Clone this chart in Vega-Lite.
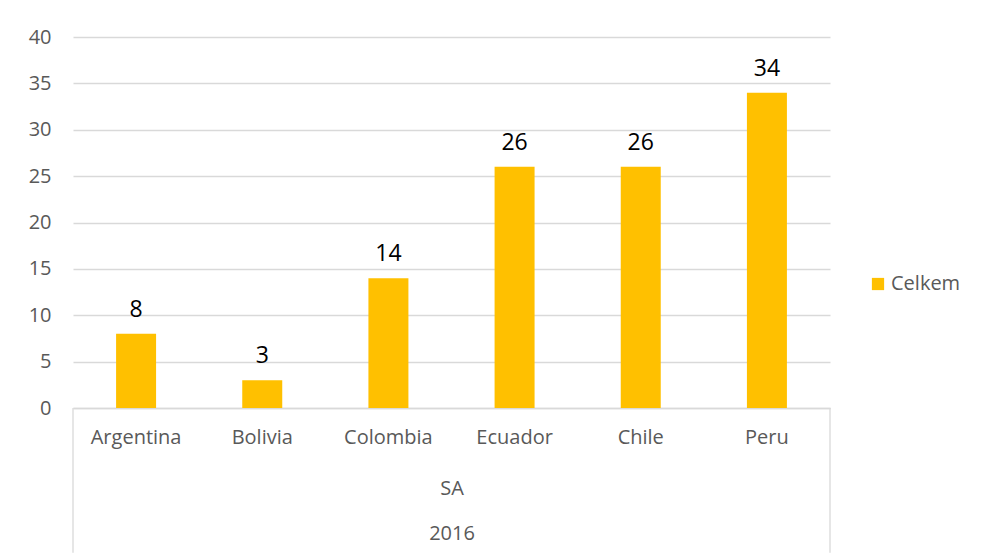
{
  "$schema": "https://vega.github.io/schema/vega-lite/v6.json",
  "width": 757,
  "height": 371,
  "autosize": {"type": "none"},
  "padding": {"left": 73, "top": 37, "right": 152, "bottom": 147},
  "background": "white",
  "config": {
    "view": {"stroke": null},
    "font": "Open Sans"
  },
  "data": {
    "values": [
      {"Country": "Argentina", "Value": 8, "Series": "Celkem"},
      {"Country": "Bolivia", "Value": 3, "Series": "Celkem"},
      {"Country": "Colombia", "Value": 14, "Series": "Celkem"},
      {"Country": "Ecuador", "Value": 26, "Series": "Celkem"},
      {"Country": "Chile", "Value": 26, "Series": "Celkem"},
      {"Country": "Peru", "Value": 34, "Series": "Celkem"}
    ]
  },
  "encoding": {
    "x": {
      "field": "Country",
      "type": "nominal",
      "sort": null,
      "scale": {"paddingInner": 0, "paddingOuter": 0},
      "axis": {
        "title": ["SA", "2016"],
        "titleLineHeight": 45,
        "titleFontSize": 20,
        "titleFontWeight": "normal",
        "titleColor": "#595959",
        "titlePadding": 31,
        "labelFontSize": 20,
        "labelColor": "#595959",
        "labelPadding": 19,
        "labelAngle": 0,
        "ticks": false,
        "domainColor": "#D9D9D9",
        "domainWidth": 1.3,
        "grid": false
      }
    },
    "y": {
      "field": "Value",
      "type": "quantitative",
      "scale": {"domain": [0, 40], "nice": false},
      "axis": {
        "title": null,
        "values": [0, 5, 10, 15, 20, 25, 30, 35, 40],
        "domain": false,
        "ticks": false,
        "labelFontSize": 20,
        "labelColor": "#595959",
        "labelPadding": 22,
        "gridColor": "#D9D9D9",
        "gridWidth": 1.3
      }
    }
  },
  "layer": [
    {
      "mark": {"type": "bar", "width": {"band": 0.317}, "color": "#FFC000"},
      "encoding": {
        "color": {
          "field": "Series",
          "type": "nominal",
          "scale": {"range": ["#FFC000"]},
          "legend": {
            "title": null,
            "orient": "none",
            "legendX": 795,
            "legendY": 237,
            "symbolType": "square",
            "symbolSize": 150,
            "symbolStrokeWidth": 0,
            "labelFontSize": 20,
            "labelColor": "#595959",
            "labelOffset": 3
          }
        }
      }
    },
    {
      "mark": {"type": "text", "baseline": "alphabetic", "dy": -17, "fontSize": 23, "color": "#000000"},
      "encoding": {"text": {"field": "Value", "type": "quantitative"}}
    },
    {
      "data": {"values": [{"Edge": "Argentina", "Low": 0, "High": -15.6}]},
      "mark": {"type": "rule", "color": "#D9D9D9", "strokeWidth": 1.3, "clip": false},
      "encoding": {
        "x": {"field": "Edge", "type": "nominal", "bandPosition": 0},
        "y": {"field": "Low", "type": "quantitative"},
        "y2": {"field": "High"}
      }
    },
    {
      "data": {"values": [{"Edge": "Peru", "Low": 0, "High": -15.6}]},
      "mark": {"type": "rule", "color": "#D9D9D9", "strokeWidth": 1.3, "clip": false},
      "encoding": {
        "x": {"field": "Edge", "type": "nominal", "bandPosition": 1},
        "y": {"field": "Low", "type": "quantitative"},
        "y2": {"field": "High"}
      }
    }
  ]
}
